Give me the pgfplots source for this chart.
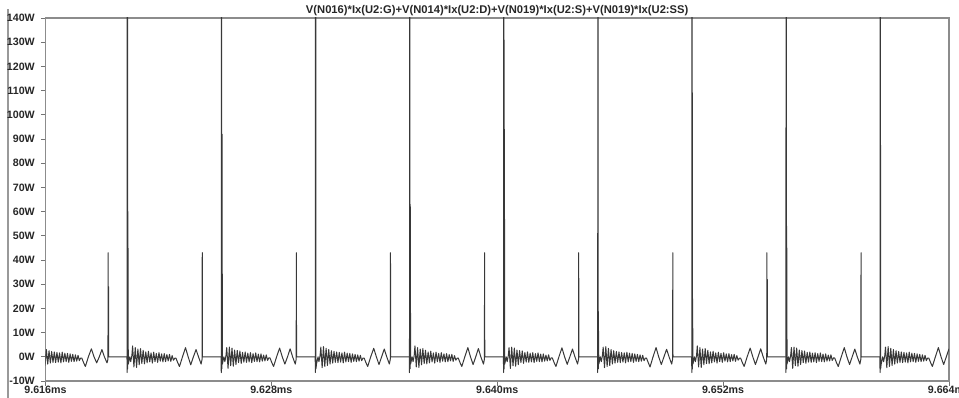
\documentclass[border=0pt]{standalone}
\usepackage{fontspec}
\setmainfont{Liberation Sans}
\usepackage{pgfplots}
\pgfplotsset{compat=1.18}
\begin{document}
\begin{tikzpicture}
\useasboundingbox (0,0) rectangle (719.25pt,298.5pt);
\draw[black!40, line width=0.8pt] (6pt,0) -- (6pt,292pt);
\begin{axis}[
 at={(34.1pt,12.75pt)}, anchor=south west,
 scale only axis, width=677.6pt, height=272.25pt,
 xmin=9616, xmax=9664, ymin=-10, ymax=140,
 xtick={9616,9628,9640,9652,9664},
 xticklabels={9.616ms,9.628ms,9.640ms,9.652ms,9.664ms},
 ytick={-10,0,10,20,30,40,50,60,70,80,90,100,110,120,130,140},
 yticklabels={-10W,0W,10W,20W,30W,40W,50W,60W,70W,80W,90W,100W,110W,120W,130W,140W},
 tick pos=left, tick align=outside,
 major tick length=3.5pt,
 axis line style={black!45, line width=0.9pt},
 every tick/.style={black!55, line width=0.6pt},
 ticklabel style={font=\bfseries\fontsize{8}{9}\selectfont, text=black!85},
 xticklabel style={inner sep=0.5pt, yshift=0.5pt},
 yticklabel style={xshift=-1pt},
 title={V(N016)*Ix(U2:G)+V(N014)*Ix(U2:D)+V(N019)*Ix(U2:S)+V(N019)*Ix(U2:SS)},
 title style={font=\bfseries\fontsize{8.4}{9}\selectfont, text=black!85, inner sep=0pt, yshift=-4.5pt},
 trace/.style={black!78, line width=0.75pt, line join=round, mark=none},
]
% partial period before first tall spike
\addplot[trace] coordinates {
(9615.98,-3.6) (9616.05,3.0) (9616.12,-3.0) (9616.19,2.5) (9616.26,-2.6) (9616.33,2.2) (9616.40,-2.3) (9616.47,2.0) (9616.54,-2.4) (9616.61,1.8) (9616.68,-2.2) (9616.75,1.6) (9616.82,-2.5) (9616.89,1.9) (9616.96,-2.1) (9617.03,1.5) (9617.10,-2.0) (9617.17,1.4) (9617.24,-2.3) (9617.31,1.2) (9617.38,-1.9) (9617.45,1.0) (9617.52,-2.0) (9617.59,0.8) (9617.66,-1.8) (9617.73,0.6) (9617.80,-1.6) (9617.87,-0.5)
(9617.93,-0.5) (9618.03,-2.5) (9618.12,-4) (9618.28,0) (9618.44,3.3) (9618.58,0) (9618.72,-2.5) (9618.86,0) (9619.00,3.0) (9619.13,0) (9619.27,-2.5) (9619.32,-1) (9619.33,43) (9619.34,0) (9619.35,29) (9619.36,0) (9620.33,0)};
% k=0
\addplot[trace] coordinates {
(9620.33,0) (9620.34,-6.5) (9620.35,300) (9620.37,-5) (9620.38,60) (9620.40,-3) (9620.48,0) (9620.53,-2) (9620.59,0.5)
(9620.63,4.5) (9620.70,-4.2) (9620.77,3.8) (9620.84,-4.4) (9620.91,3.2) (9620.98,-3.3) (9621.05,3.4) (9621.12,-2.8) (9621.19,2.7) (9621.26,-2.9) (9621.33,2.0) (9621.40,-2.5) (9621.47,2.3) (9621.54,-2.1) (9621.61,1.6) (9621.68,-2.6) (9621.75,1.9) (9621.82,-2.0) (9621.89,1.4) (9621.96,-2.3) (9622.03,1.7) (9622.10,-1.8) (9622.17,1.2) (9622.24,-2.1) (9622.31,1.3) (9622.38,-2.0) (9622.45,0.9) (9622.52,-1.7) (9622.59,1.0) (9622.66,-1.9) (9622.73,0.5) (9622.80,-1.4) (9622.87,-0.6)
(9622.93,-0.5) (9623.03,-2.5) (9623.12,-4) (9623.28,0) (9623.44,3.8) (9623.58,0) (9623.72,-3.3) (9623.86,0) (9624.00,3.0) (9624.13,0) (9624.27,-3) (9624.32,-1) (9624.33,43) (9624.34,0) (9625.33,0)};
% k=1
\addplot[trace] coordinates {
(9625.33,0) (9625.34,-6.5) (9625.35,300) (9625.37,-5) (9625.38,92) (9625.40,-3) (9625.48,0) (9625.53,-2) (9625.59,0.5)
(9625.63,3.8) (9625.70,-4.8) (9625.77,4.0) (9625.84,-3.7) (9625.91,3.6) (9625.98,-3.9) (9626.05,2.8) (9626.12,-3.2) (9626.19,2.6) (9626.26,-2.4) (9626.33,2.4) (9626.40,-2.7) (9626.47,1.8) (9626.54,-2.2) (9626.61,2.0) (9626.68,-2.3) (9626.75,1.5) (9626.82,-2.1) (9626.89,1.7) (9626.96,-2.4) (9627.03,1.3) (9627.10,-1.9) (9627.17,1.6) (9627.24,-2.0) (9627.31,1.1) (9627.38,-2.1) (9627.45,1.2) (9627.52,-1.8) (9627.59,0.7) (9627.66,-1.7) (9627.73,0.8) (9627.80,-1.5) (9627.87,-0.4)
(9627.93,-0.5) (9628.03,-2.5) (9628.12,-4) (9628.28,0) (9628.44,3.6) (9628.58,0) (9628.72,-3.0) (9628.86,0) (9629.00,3.3) (9629.13,0) (9629.27,-3) (9629.32,-1) (9629.33,43) (9629.34,0) (9630.33,0)};
% k=2
\addplot[trace] coordinates {
(9630.33,0) (9630.34,-6.5) (9630.35,300) (9630.37,-5) (9630.40,-3) (9630.48,0) (9630.53,-2) (9630.59,0.5)
(9630.63,4.0) (9630.70,-4.5) (9630.77,4.2) (9630.84,-4.0) (9630.91,3.5) (9630.98,-3.6) (9631.05,3.0) (9631.12,-3.0) (9631.19,2.5) (9631.26,-2.6) (9631.33,2.2) (9631.40,-2.3) (9631.47,2.0) (9631.54,-2.4) (9631.61,1.8) (9631.68,-2.2) (9631.75,1.6) (9631.82,-2.5) (9631.89,1.9) (9631.96,-2.1) (9632.03,1.5) (9632.10,-2.0) (9632.17,1.4) (9632.24,-2.3) (9632.31,1.2) (9632.38,-1.9) (9632.45,1.0) (9632.52,-2.0) (9632.59,0.8) (9632.66,-1.8) (9632.73,0.6) (9632.80,-1.6) (9632.87,-0.5)
(9632.93,-0.5) (9633.03,-2.5) (9633.12,-4) (9633.28,0) (9633.44,3.5) (9633.58,0) (9633.72,-3.2) (9633.86,0) (9634.00,3.2) (9634.13,0) (9634.27,-3) (9634.32,-1) (9634.33,43) (9634.34,0) (9635.33,0)};
% k=3
\addplot[trace] coordinates {
(9635.33,0) (9635.34,-6.5) (9635.35,300) (9635.37,-5) (9635.38,63) (9635.40,-3) (9635.48,0) (9635.53,-2) (9635.59,0.5)
(9635.63,4.5) (9635.70,-4.2) (9635.77,3.8) (9635.84,-4.4) (9635.91,3.2) (9635.98,-3.3) (9636.05,3.4) (9636.12,-2.8) (9636.19,2.7) (9636.26,-2.9) (9636.33,2.0) (9636.40,-2.5) (9636.47,2.3) (9636.54,-2.1) (9636.61,1.6) (9636.68,-2.6) (9636.75,1.9) (9636.82,-2.0) (9636.89,1.4) (9636.96,-2.3) (9637.03,1.7) (9637.10,-1.8) (9637.17,1.2) (9637.24,-2.1) (9637.31,1.3) (9637.38,-2.0) (9637.45,0.9) (9637.52,-1.7) (9637.59,1.0) (9637.66,-1.9) (9637.73,0.5) (9637.80,-1.4) (9637.87,-0.6)
(9637.93,-0.5) (9638.03,-2.5) (9638.12,-4) (9638.28,0) (9638.44,3.8) (9638.58,0) (9638.72,-3.2) (9638.86,0) (9639.00,3.4) (9639.13,0) (9639.27,-3) (9639.32,-1) (9639.33,43) (9639.34,0) (9640.33,0)};
% k=4
\addplot[trace] coordinates {
(9640.33,0) (9640.34,-6.5) (9640.35,300) (9640.37,-5) (9640.38,94) (9640.40,-3) (9640.48,0) (9640.53,-2) (9640.59,0.5)
(9640.63,3.8) (9640.70,-4.8) (9640.77,4.0) (9640.84,-3.7) (9640.91,3.6) (9640.98,-3.9) (9641.05,2.8) (9641.12,-3.2) (9641.19,2.6) (9641.26,-2.4) (9641.33,2.4) (9641.40,-2.7) (9641.47,1.8) (9641.54,-2.2) (9641.61,2.0) (9641.68,-2.3) (9641.75,1.5) (9641.82,-2.1) (9641.89,1.7) (9641.96,-2.4) (9642.03,1.3) (9642.10,-1.9) (9642.17,1.6) (9642.24,-2.0) (9642.31,1.1) (9642.38,-2.1) (9642.45,1.2) (9642.52,-1.8) (9642.59,0.7) (9642.66,-1.7) (9642.73,0.8) (9642.80,-1.5) (9642.87,-0.4)
(9642.93,-0.5) (9643.03,-2.5) (9643.12,-4) (9643.28,0) (9643.44,3.7) (9643.58,0) (9643.72,-3.1) (9643.86,0) (9644.00,3.2) (9644.13,0) (9644.27,-3) (9644.32,-1) (9644.33,43) (9644.34,0) (9645.33,0)};
% k=5
\addplot[trace] coordinates {
(9645.33,0) (9645.34,-6.5) (9645.35,300) (9645.37,-5) (9645.38,12) (9645.40,-3) (9645.48,0) (9645.53,-2) (9645.59,0.5)
(9645.63,4.0) (9645.70,-4.5) (9645.77,4.2) (9645.84,-4.0) (9645.91,3.5) (9645.98,-3.6) (9646.05,3.0) (9646.12,-3.0) (9646.19,2.5) (9646.26,-2.6) (9646.33,2.2) (9646.40,-2.3) (9646.47,2.0) (9646.54,-2.4) (9646.61,1.8) (9646.68,-2.2) (9646.75,1.6) (9646.82,-2.5) (9646.89,1.9) (9646.96,-2.1) (9647.03,1.5) (9647.10,-2.0) (9647.17,1.4) (9647.24,-2.3) (9647.31,1.2) (9647.38,-1.9) (9647.45,1.0) (9647.52,-2.0) (9647.59,0.8) (9647.66,-1.8) (9647.73,0.6) (9647.80,-1.6) (9647.87,-0.5)
(9647.93,-0.5) (9648.03,-2.5) (9648.12,-4.2) (9648.28,0) (9648.44,3.8) (9648.58,0) (9648.72,-3.2) (9648.86,0) (9649.00,3.1) (9649.13,0) (9649.27,-3) (9649.32,-1) (9649.33,43) (9649.34,0) (9650.33,0)};
% k=6
\addplot[trace] coordinates {
(9650.33,0) (9650.34,-6.5) (9650.35,300) (9650.37,-5) (9650.38,24) (9650.40,-3) (9650.48,0) (9650.53,-2) (9650.59,0.5)
(9650.63,4.5) (9650.70,-4.2) (9650.77,3.8) (9650.84,-4.4) (9650.91,3.2) (9650.98,-3.3) (9651.05,3.4) (9651.12,-2.8) (9651.19,2.7) (9651.26,-2.9) (9651.33,2.0) (9651.40,-2.5) (9651.47,2.3) (9651.54,-2.1) (9651.61,1.6) (9651.68,-2.6) (9651.75,1.9) (9651.82,-2.0) (9651.89,1.4) (9651.96,-2.3) (9652.03,1.7) (9652.10,-1.8) (9652.17,1.2) (9652.24,-2.1) (9652.31,1.3) (9652.38,-2.0) (9652.45,0.9) (9652.52,-1.7) (9652.59,1.0) (9652.66,-1.9) (9652.73,0.5) (9652.80,-1.4) (9652.87,-0.6)
(9652.93,-0.5) (9653.03,-2.5) (9653.12,-4) (9653.28,0) (9653.44,3.6) (9653.58,0) (9653.72,-3.2) (9653.86,0) (9654.00,3.3) (9654.13,0) (9654.27,-3) (9654.32,-1) (9654.33,43) (9654.34,0) (9654.35,32) (9654.36,0) (9655.33,0)};
% k=7
\addplot[trace] coordinates {
(9655.33,0) (9655.34,-6.5) (9655.35,300) (9655.37,-5) (9655.38,54) (9655.40,-3) (9655.48,0) (9655.53,-2) (9655.59,0.5)
(9655.63,3.8) (9655.70,-4.8) (9655.77,4.0) (9655.84,-3.7) (9655.91,3.6) (9655.98,-3.9) (9656.05,2.8) (9656.12,-3.2) (9656.19,2.6) (9656.26,-2.4) (9656.33,2.4) (9656.40,-2.7) (9656.47,1.8) (9656.54,-2.2) (9656.61,2.0) (9656.68,-2.3) (9656.75,1.5) (9656.82,-2.1) (9656.89,1.7) (9656.96,-2.4) (9657.03,1.3) (9657.10,-1.9) (9657.17,1.6) (9657.24,-2.0) (9657.31,1.1) (9657.38,-2.1) (9657.45,1.2) (9657.52,-1.8) (9657.59,0.7) (9657.66,-1.7) (9657.73,0.8) (9657.80,-1.5) (9657.87,-0.4)
(9657.93,-0.5) (9658.03,-2.5) (9658.12,-4) (9658.28,0) (9658.44,3.8) (9658.58,0) (9658.72,-3.2) (9658.86,0) (9659.00,3.2) (9659.13,0) (9659.27,-3) (9659.32,-1) (9659.33,43) (9659.34,0) (9660.33,0)};
% k=8 (truncated)
\addplot[trace] coordinates {
(9660.33,0) (9660.34,-6.5) (9660.35,300) (9660.37,-5) (9660.40,-3) (9660.48,0) (9660.53,-2) (9660.59,0.5)
(9660.63,4.0) (9660.70,-4.5) (9660.77,4.2) (9660.84,-4.0) (9660.91,3.5) (9660.98,-3.6) (9661.05,3.0) (9661.12,-3.0) (9661.19,2.5) (9661.26,-2.6) (9661.33,2.2) (9661.40,-2.3) (9661.47,2.0) (9661.54,-2.4) (9661.61,1.8) (9661.68,-2.2) (9661.75,1.6) (9661.82,-2.5) (9661.89,1.9) (9661.96,-2.1) (9662.03,1.5) (9662.10,-2.0) (9662.17,1.4) (9662.24,-2.3) (9662.31,1.2) (9662.38,-1.9) (9662.45,1.0) (9662.52,-2.0) (9662.59,0.8) (9662.66,-1.8) (9662.73,0.6) (9662.80,-1.6) (9662.87,-0.5)
(9662.93,-0.5) (9663.03,-2.5) (9663.12,-4) (9663.28,0) (9663.44,3.8) (9663.58,0) (9663.72,-3.2) (9663.86,0) (9664.00,3.2) (9664.13,0)};
\end{axis}
\end{tikzpicture}
\end{document}
